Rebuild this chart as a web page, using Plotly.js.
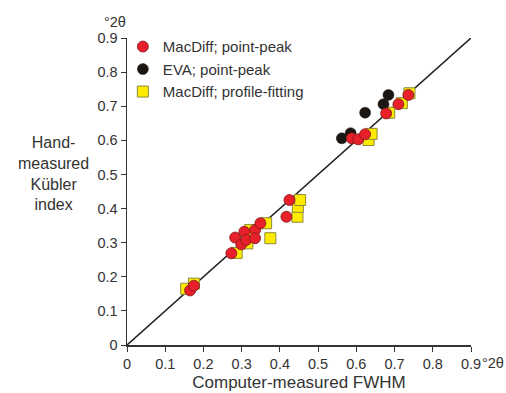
<!DOCTYPE html>
<html>
<head>
<meta charset="utf-8">
<script src="https://cdn.plot.ly/plotly-3.0.1.min.js"></script>
<style>html,body{margin:0;padding:0;background:#fff;}#chart{width:506px;height:393px;}</style>
</head>
<body>
<div id="chart"></div>
<script>
// 1:1 reference line
const lineX = [0, 0.9];
const lineY = [0, 0.9];

// MacDiff; point-peak (red circles)
const redX = [0.165, 0.175, 0.273, 0.283, 0.299, 0.307, 0.312, 0.335, 0.335, 0.349, 0.417, 0.425, 0.588, 0.605, 0.623, 0.678, 0.710, 0.736];
const redY = [0.160, 0.174, 0.269, 0.315, 0.295, 0.332, 0.308, 0.337, 0.313, 0.357, 0.376, 0.425, 0.606, 0.603, 0.618, 0.679, 0.706, 0.733];

// EVA; point-peak (black circles)
const blackX = [0.562, 0.585, 0.623, 0.671, 0.684];
const blackY = [0.606, 0.621, 0.681, 0.706, 0.733];

// MacDiff; profile-fitting (yellow squares)
const yellowX = [0.155, 0.175, 0.287, 0.315, 0.322, 0.326, 0.364, 0.375, 0.446, 0.447, 0.453, 0.632, 0.640, 0.686, 0.719, 0.739];
const yellowY = [0.165, 0.180, 0.270, 0.298, 0.337, 0.322, 0.357, 0.313, 0.376, 0.405, 0.425, 0.601, 0.619, 0.681, 0.709, 0.738];

const xTicks = [0, 0.1, 0.2, 0.3, 0.4, 0.5, 0.6, 0.7, 0.8, 0.9];
const xTickText = ['0', '0.1', '0.2', '0.3', '0.4', '0.5', '0.6', '0.7', '0.8', '0.9'];
const yTicks = [0, 0.1, 0.2, 0.3, 0.4, 0.5, 0.6, 0.7, 0.8, 0.9];
const yTickText = ['0', '0.1', '0.2', '0.3', '0.4', '0.5', '0.6', '0.7', '0.8', '0.9'];

const seriesNames = ['MacDiff; point-peak', 'EVA; point-peak', 'MacDiff; profile-fitting'];

const FONT = 'Liberation Sans, Arial, sans-serif';
const TXT = '#333';

const traces = [
  {x: lineX, y: lineY, mode: 'lines', line: {color: '#222', width: 1.6}, showlegend: false, hoverinfo: 'skip'},
  {x: yellowX, y: yellowY, mode: 'markers', name: seriesNames[2], legendgroup: 'c', legendrank: 3,
   marker: {symbol: 'square', size: 11, color: '#FFEB00', line: {color: '#8C8A3C', width: 1}}},
  {x: blackX, y: blackY, mode: 'markers', name: seriesNames[1], legendgroup: 'b', legendrank: 2,
   marker: {symbol: 'circle', size: 11, color: '#1C1612', line: {color: '#1C1612', width: 0.5}}},
  {x: redX, y: redY, mode: 'markers', name: seriesNames[0], legendgroup: 'a', legendrank: 1,
   marker: {symbol: 'circle', size: 11, color: '#E8202A', line: {color: '#7A1A1A', width: 0.8}}}
];

const layout = {
  width: 506, height: 393,
  margin: {l: 127, r: 35, t: 38, b: 48, pad: 0},
  paper_bgcolor: '#fff', plot_bgcolor: '#fff',
  font: {family: FONT, size: 14.5, color: TXT},
  showlegend: true,
  legend: {x: -0.012, y: 1.025, xanchor: 'left', yanchor: 'top', bgcolor: 'rgba(0,0,0,0)',
           font: {family: FONT, size: 15, color: TXT}, tracegroupgap: 2, traceorder: 'normal'},
  xaxis: {range: [0, 0.9], tickvals: xTicks, ticktext: xTickText, ticks: 'outside', ticklen: 5,
          tickcolor: '#333', showline: true, linecolor: '#333', linewidth: 1.5, showgrid: false,
          zeroline: false, tickfont: {family: FONT, size: 14.5, color: TXT},
          title: {text: 'Computer-measured FWHM', font: {family: FONT, size: 17, color: TXT}, standoff: 5}},
  yaxis: {range: [0, 0.9], tickvals: yTicks, ticktext: yTickText, ticks: 'outside', ticklen: 5,
          tickcolor: '#333', showline: true, linecolor: '#333', linewidth: 1.5, showgrid: false,
          zeroline: false, tickfont: {family: FONT, size: 14.5, color: TXT}},
  annotations: [
    {xref: 'paper', yref: 'paper', x: 1.027, y: -0.058, xanchor: 'left', yanchor: 'middle', showarrow: false,
     text: '°2θ', font: {family: FONT, size: 14.5, color: TXT}},
    {xref: 'paper', yref: 'paper', x: 0.003, y: 1.053, xanchor: 'right', yanchor: 'middle', showarrow: false,
     text: '°2θ', font: {family: FONT, size: 14.5, color: TXT}},
    {xref: 'paper', yref: 'paper', x: -0.215, y: 0.56, xanchor: 'center', yanchor: 'middle', showarrow: false,
     text: 'Hand-<br>measured<br>Kübler<br>index', align: 'center',
     font: {family: FONT, size: 16, color: TXT}}
  ]
};

Plotly.newPlot('chart', traces, layout, {displayModeBar: false, staticPlot: true});
</script>
</body>
</html>
